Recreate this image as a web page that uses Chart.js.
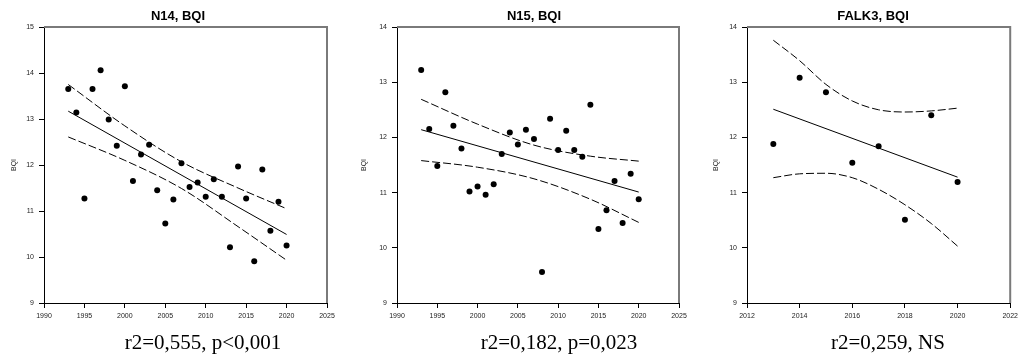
<!DOCTYPE html>
<html>
<head>
<meta charset="utf-8">
<script src="https://cdn.jsdelivr.net/npm/chart.js@4.4.1/dist/chart.umd.min.js"></script>
<style>
  html, body { margin: 0; padding: 0; background: #fff; }
  #wrap { position: relative; width: 1022px; height: 358px; overflow: hidden; }
  #wrap canvas { position: absolute; top: 0; }
  .ttl {
    position: absolute; top: 9px; transform: translateX(-50%);
    font: bold 13px "Liberation Sans", Arial, sans-serif; line-height: 13px;
    white-space: nowrap; color: #000;
  }
  .stat {
    position: absolute; top: 332px; transform: translateX(-50%);
    font: 21px "Liberation Serif", "Times New Roman", serif; line-height: 21px;
    white-space: nowrap; color: #000;
  }
</style>
</head>
<body>
<div id="wrap">
  <canvas id="c1" width="340" height="358" style="left:0px"></canvas>
  <canvas id="c2" width="352" height="358" style="left:340px"></canvas>
  <canvas id="c3" width="332" height="358" style="left:690px"></canvas>
  <div class="ttl" style="left:178px">N14, BQI</div>
  <div class="ttl" style="left:534px">N15, BQI</div>
  <div class="ttl" style="left:873px">FALK3, BQI</div>
  <div class="stat" style="left:203px">r2=0,555, p&lt;0,001</div>
  <div class="stat" style="left:559px">r2=0,182, p=0,023</div>
  <div class="stat" style="left:888px">r2=0,259, NS</div>
</div>
<script>
// ---- Station N14: yearly BQI, fitted trend and 95% confidence band ----
const yearsN14 = [1993,1994,1995,1996,1997,1998,1999,2000,2001,2002,2003,2004,2005,2006,
                  2007,2008,2009,2010,2011,2012,2013,2014,2015,2016,2017,2018,2019,2020];
const bqiN14   = [13.65,13.14,11.27,13.65,14.06,12.99,12.42,13.71,11.65,12.23,12.44,11.45,10.73,11.25,
                  12.04,11.52,11.62,11.31,11.69,11.31,10.21,11.97,11.27,9.91,11.90,10.57,11.20,10.25];
const fitXN14  = [1993, 2020];
const fitYN14  = [13.17, 10.49];
const bandXN14 = [1993, 2000, 2007, 2014, 2020];
const upperN14 = [13.75, 12.85, 12.07, 11.50, 11.05];
const lowerN14 = [12.61, 12.10, 11.49, 10.66, 9.93];

// ---- Station N15 ----
const yearsN15 = [1993,1994,1995,1996,1997,1998,1999,2000,2001,2002,2003,2004,2005,2006,
                  2007,2008,2009,2010,2011,2012,2013,2014,2015,2016,2017,2018,2019,2020];
const bqiN15   = [13.22,12.15,11.48,12.82,12.21,11.80,11.02,11.11,10.96,11.15,11.70,12.09,11.87,12.14,
                  11.97,9.56,12.34,11.77,12.12,11.77,11.65,12.59,10.34,10.68,11.21,10.45,11.34,10.88];
const fitXN15  = [1993, 2020];
const fitYN15  = [12.14, 11.01];
const bandXN15 = [1993, 2000, 2007, 2014, 2020];
const upperN15 = [12.69, 12.24, 11.86, 11.66, 11.57];
const lowerN15 = [11.58, 11.46, 11.25, 10.88, 10.46];

// ---- Station FALK3 ----
const yearsFALK3 = [2013,2014,2015,2016,2017,2018,2019,2020];
const bqiFALK3   = [11.88,13.08,12.82,11.54,11.84,10.51,12.40,11.19];
const fitXFALK3  = [2013, 2020];
const fitYFALK3  = [12.51, 11.28];
const bandXFALK3 = [2013,2014,2015,2016,2017,2018,2019,2020];
const upperFALK3 = [13.76,13.39,12.96,12.66,12.50,12.46,12.48,12.53];
const lowerFALK3 = [11.27,11.34,11.35,11.27,11.06,10.78,10.44,10.03];

const yLabel = 'BQI';

const xy = (xs, ys) => xs.map((x, i) => ({ x: x, y: ys[i] }));

// Thin grey frame on the top and right of the plot area
const framePlugin = {
  id: 'frame',
  afterDraw(chart) {
    const { ctx, chartArea: a } = chart;
    ctx.save();
    ctx.strokeStyle = '#7a7a7a';
    ctx.lineWidth = 2;
    ctx.beginPath();
    ctx.moveTo(a.left, a.top);
    ctx.lineTo(a.right, a.top);
    ctx.lineTo(a.right, a.bottom);
    ctx.stroke();
    ctx.restore();
  }
};

const tickFont = { family: '"Liberation Sans", Arial, sans-serif', size: 7 };

function panel(id, o) {
  const dash = [8, 3];
  new Chart(document.getElementById(id), {
    type: 'scatter',
    data: {
      datasets: [
        { data: xy(o.years, o.bqi), pointRadius: 3, pointBackgroundColor: '#000',
          pointBorderWidth: 0, showLine: false },
        { data: xy(o.fitX, o.fitY), showLine: true, pointRadius: 0,
          borderColor: '#000', borderWidth: 1 },
        { data: xy(o.bandX, o.upper), showLine: true, pointRadius: 0,
          borderColor: '#000', borderWidth: 1, borderDash: dash, cubicInterpolationMode: 'monotone' },
        { data: xy(o.bandX, o.lower), showLine: true, pointRadius: 0,
          borderColor: '#000', borderWidth: 1, borderDash: dash, cubicInterpolationMode: 'monotone' }
      ]
    },
    options: {
      responsive: false,
      animation: false,
      events: [],
      layout: { padding: { left: o.padL, right: o.padR, top: 27, bottom: 35 } },
      plugins: { legend: { display: false }, tooltip: { enabled: false } },
      scales: {
        x: {
          type: 'linear', min: o.xMin, max: o.xMax,
          afterFit(s) { s.height = 20; },
          ticks: { stepSize: o.xStep, font: tickFont, color: '#222', padding: 4,
                   maxRotation: 0, autoSkip: false, callback: v => String(v) },
          grid: { drawOnChartArea: false, drawTicks: true, tickLength: 5, color: '#000' },
          border: { display: true, color: '#000', width: 1 }
        },
        y: {
          type: 'linear', min: o.yMin, max: o.yMax,
          afterFit(s) { s.width = o.yW; },
          ticks: { stepSize: 1, font: tickFont, color: '#222', padding: 5 },
          grid: { drawOnChartArea: false, drawTicks: true, tickLength: 5, color: '#000' },
          border: { display: true, color: '#000', width: 1 },
          title: { display: true, text: yLabel, font: tickFont, color: '#222',
                   padding: { top: 4, bottom: 4 } }
        }
      }
    },
    plugins: [framePlugin]
  });
}

panel('c1', { years: yearsN14, bqi: bqiN14, fitX: fitXN14, fitY: fitYN14,
  bandX: bandXN14, upper: upperN14, lower: lowerN14,
  xMin: 1990, xMax: 2025, xStep: 5, yMin: 9, yMax: 15, padL: 6, padR: 13, yW: 38 });

panel('c2', { years: yearsN15, bqi: bqiN15, fitX: fitXN15, fitY: fitYN15,
  bandX: bandXN15, upper: upperN15, lower: lowerN15,
  xMin: 1990, xMax: 2025, xStep: 5, yMin: 9, yMax: 14, padL: 16, padR: 13, yW: 41 });

panel('c3', { years: yearsFALK3, bqi: bqiFALK3, fitX: fitXFALK3, fitY: fitYFALK3,
  bandX: bandXFALK3, upper: upperFALK3, lower: lowerFALK3,
  xMin: 2012, xMax: 2022, xStep: 2, yMin: 9, yMax: 14, padL: 18, padR: 9, yW: 39 });
</script>
</body>
</html>
